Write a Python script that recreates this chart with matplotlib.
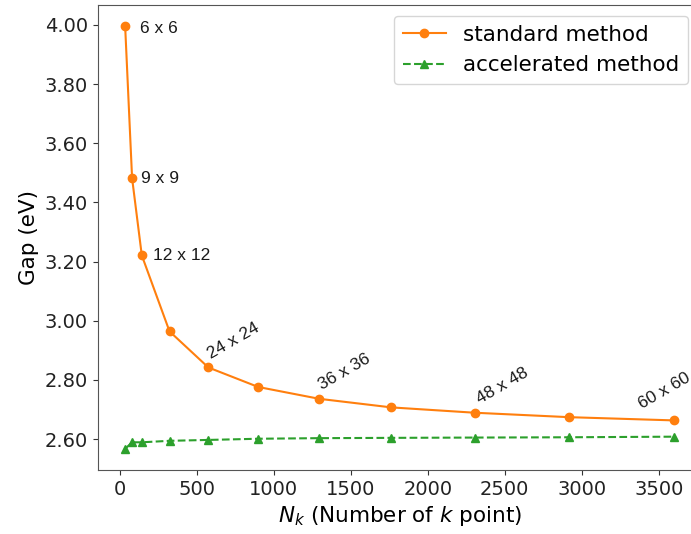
import numpy as np
import matplotlib
matplotlib.use("Agg")
from matplotlib import pyplot as plt
from matplotlib.ticker import FormatStrFormatter

# k-point grids and gap values (eV)
grids = [6, 9, 12, 18, 24, 30, 36, 42, 48, 54, 60]
nk = [g * g for g in grids]
gap_standard = [3.995, 3.482, 3.221, 2.964, 2.842, 2.776, 2.736, 2.707, 2.689, 2.674, 2.663]
gap_accel = [2.567, 2.589, 2.589, 2.594, 2.597, 2.601, 2.603, 2.604, 2.605, 2.606, 2.608]

# which points get a grid label
flat_labels = [6, 9, 12]
flat_dx = [95, 60, 75]
flat_dy = [-0.008, 0.0, 0.0]
rot_labels = [24, 36, 48, 60]
rot_dx = [30, 25, 43, -200]
rot_dy = [0.02, 0.02, 0.022, 0.03]

plt.rcParams['font.size'] = 14

fig = plt.figure(figsize=[6.91, 5.34], dpi=100)
ax = fig.add_axes([0.1414, 0.12, 0.874, 0.87])

ax.plot(nk, gap_standard, '-o', color='tab:orange', markersize=6, linewidth=1.5,
        label='standard method')
ax.plot(nk, gap_accel, '--^', color='tab:green', markersize=6, linewidth=1.5,
        label='accelerated method')

for g, dx, dy in zip(flat_labels, flat_dx, flat_dy):
    i = grids.index(g)
    ax.text(nk[i] + dx, gap_standard[i] + dy, f'{g} x {g}', va='center', ha='left',
            fontsize=12.5, family='Liberation Sans', color='#1a1a1a')

for g, dx, dy in zip(rot_labels, rot_dx, rot_dy):
    i = grids.index(g)
    ax.text(nk[i] + dx, gap_standard[i] + dy, f'{g} x {g}', rotation=30,
            rotation_mode='anchor', ha='left', va='bottom',
            fontsize=12.5, family='Liberation Sans', color='#1a1a1a')

ax.set_xlabel(r'$N_k$ (Number of $k$ point)', fontsize=15.5)
ax.set_ylabel('Gap (eV)', fontsize=15.5)
ax.yaxis.set_major_formatter(FormatStrFormatter('%.2f'))
ax.set_yticks(np.arange(2.6, 4.01, 0.2))
ax.set_xticks(np.arange(0, 3501, 500))
ax.tick_params(labelsize=14, colors='#333333', labelcolor='#222222')
for s in ax.spines.values():
    s.set_color('#555555')
# right edge of the original figure is cropped off
ax.spines['right'].set_visible(False)

ax.legend(loc='upper right', fontsize=15.5, bbox_to_anchor=(0.995, 1.0))

plt.savefig('out.png', dpi=100)
